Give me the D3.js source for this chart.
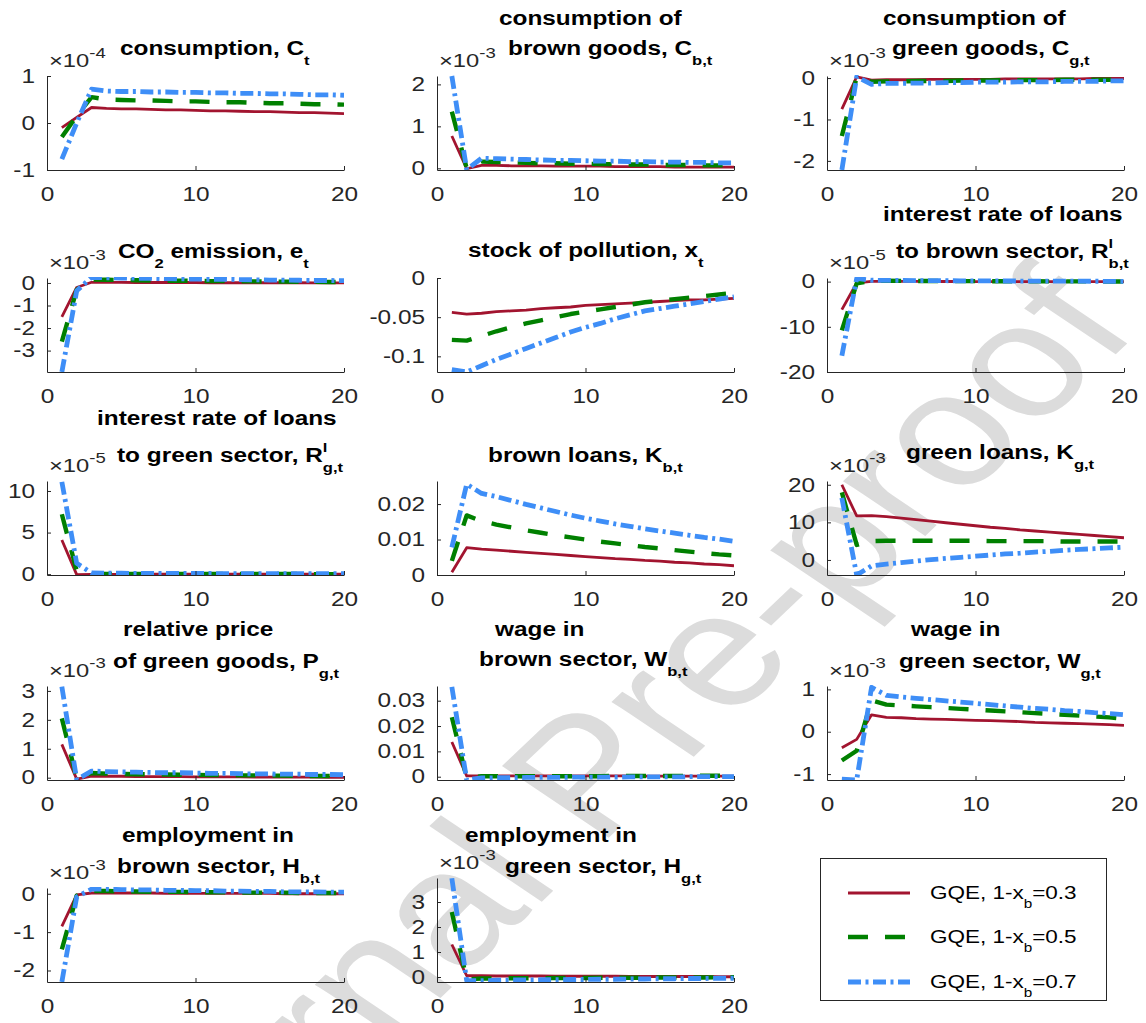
<!DOCTYPE html>
<html><head><meta charset="utf-8">
<script src="https://cdn.jsdelivr.net/npm/d3@7"></script>
<style>
body{margin:0;background:#fff}
svg{display:block}
text{font-family:"Liberation Sans",Arial,Helvetica,sans-serif}
</style>
</head><body>
<svg id="chart" width="1146" height="1023"></svg>
<script>
// ---------------- DATA (values in the units shown on each y axis) ----------------
const periods = [1,2,3,4,5,6,7,8,9,10,11,12,13,14,15,16,17,18,19,20];
const xTicks = [0,10,20];
const seriesLabels = ["GQE, 1-x_{b}=0.3","GQE, 1-x_{b}=0.5","GQE, 1-x_{b}=0.7"];

// consumption C_t  (x 1e-4)
const consumption = [
 [-0.10,0.12,0.33,0.31,0.30,0.30,0.29,0.28,0.28,0.27,0.26,0.26,0.25,0.24,0.24,0.23,0.22,0.22,0.21,0.20],
 [-0.30,0.15,0.55,0.50,0.49,0.48,0.48,0.47,0.46,0.46,0.45,0.44,0.44,0.43,0.42,0.42,0.41,0.40,0.40,0.39],
 [-0.77,0.00,0.72,0.68,0.67,0.67,0.66,0.66,0.65,0.65,0.64,0.64,0.63,0.63,0.62,0.62,0.61,0.60,0.60,0.59]];
// consumption of brown goods (x 1e-3)
const brownCons = [
 [0.77,-0.01,0.07,0.07,0.06,0.06,0.06,0.05,0.05,0.05,0.05,0.04,0.04,0.04,0.04,0.03,0.03,0.03,0.03,0.03],
 [1.35,0.00,0.16,0.15,0.14,0.13,0.12,0.12,0.11,0.11,0.10,0.10,0.09,0.09,0.08,0.08,0.08,0.07,0.07,0.07],
 [2.20,-0.03,0.24,0.23,0.22,0.21,0.20,0.19,0.19,0.18,0.17,0.17,0.16,0.16,0.15,0.15,0.14,0.14,0.13,0.13]];
// consumption of green goods (x 1e-3)
const greenCons = [
 [-0.75,0.03,-0.05,-0.04,-0.04,-0.04,-0.03,-0.03,-0.03,-0.03,-0.03,-0.02,-0.02,-0.02,-0.02,-0.02,-0.02,-0.01,-0.01,-0.01],
 [-1.40,0.02,-0.09,-0.08,-0.08,-0.07,-0.07,-0.07,-0.06,-0.06,-0.06,-0.05,-0.05,-0.05,-0.05,-0.04,-0.04,-0.04,-0.04,-0.03],
 [-2.22,0.03,-0.15,-0.13,-0.13,-0.12,-0.12,-0.11,-0.11,-0.10,-0.10,-0.10,-0.09,-0.09,-0.09,-0.08,-0.08,-0.08,-0.07,-0.07]];
// CO2 emission (x 1e-3)
const emission = [
 [-1.50,-0.20,0.03,0.03,0.03,0.02,0.02,0.02,0.02,0.02,0.01,0.01,0.01,0.01,0.01,0.01,0.01,0.00,0.00,0.00],
 [-2.60,-0.30,0.15,0.14,0.13,0.12,0.11,0.10,0.10,0.09,0.08,0.08,0.07,0.07,0.06,0.06,0.05,0.05,0.04,0.04],
 [-3.95,-0.35,0.25,0.23,0.22,0.21,0.20,0.19,0.18,0.17,0.16,0.16,0.15,0.14,0.13,0.13,0.12,0.11,0.11,0.10]];
// stock of pollution
const pollution = [
 [-0.044,-0.046,-0.045,-0.043,-0.042,-0.041,-0.039,-0.038,-0.037,-0.035,-0.034,-0.033,-0.032,-0.031,-0.030,-0.029,-0.028,-0.028,-0.027,-0.026],
 [-0.079,-0.080,-0.074,-0.068,-0.063,-0.058,-0.054,-0.050,-0.046,-0.043,-0.040,-0.037,-0.034,-0.031,-0.029,-0.027,-0.025,-0.023,-0.021,-0.019],
 [-0.117,-0.120,-0.112,-0.104,-0.097,-0.090,-0.083,-0.076,-0.069,-0.063,-0.058,-0.052,-0.047,-0.042,-0.039,-0.036,-0.033,-0.030,-0.027,-0.024]];
// interest rate of loans to brown sector (x 1e-5)
const rateBrown = [
 [-6.2,-0.3,0.05,0.05,0.04,0.04,0.03,0.03,0.03,0.02,0.02,0.02,0.02,0.01,0.01,0.01,0.01,0.01,0.01,0.00],
 [-10.8,-0.4,0.20,0.18,0.16,0.15,0.13,0.12,0.11,0.10,0.09,0.08,0.07,0.07,0.06,0.05,0.05,0.04,0.04,0.03],
 [-16.4,0.7,0.30,0.28,0.26,0.24,0.22,0.20,0.18,0.17,0.15,0.14,0.13,0.12,0.11,0.10,0.09,0.08,0.07,0.06]];
// interest rate of loans to green sector (x 1e-5)
const rateGreen = [
 [4.1,-0.05,-0.02,-0.02,-0.02,-0.02,-0.01,-0.01,-0.01,-0.01,-0.01,-0.01,-0.01,-0.01,0.00,0.00,0.00,0.00,0.00,0.00],
 [7.2,0.4,0.05,0.04,0.04,0.04,0.03,0.03,0.03,0.03,0.02,0.02,0.02,0.02,0.02,0.02,0.01,0.01,0.01,0.01],
 [11.1,1.3,0.15,0.12,0.11,0.10,0.10,0.09,0.09,0.08,0.08,0.07,0.07,0.07,0.06,0.06,0.06,0.05,0.05,0.05]];
// brown loans
const brownLoans = [
 [0.0008,0.0077,0.0073,0.0070,0.0067,0.0064,0.0061,0.0058,0.0055,0.0052,0.0049,0.0046,0.0044,0.0041,0.0039,0.0036,0.0034,0.0031,0.0029,0.0026],
 [0.0040,0.0168,0.0152,0.0142,0.0134,0.0126,0.0119,0.0112,0.0106,0.0100,0.0094,0.0089,0.0084,0.0079,0.0075,0.0070,0.0066,0.0062,0.0058,0.0055],
 [0.0078,0.0256,0.0230,0.0221,0.0210,0.0199,0.0189,0.0179,0.0169,0.0160,0.0152,0.0144,0.0137,0.0130,0.0124,0.0118,0.0112,0.0106,0.0101,0.0095]];
// green loans (x 1e-3)
const greenLoans = [
 [20.0,11.7,11.8,11.5,11.1,10.7,10.3,9.9,9.5,9.1,8.7,8.4,8.0,7.7,7.4,7.1,6.8,6.5,6.2,5.9],
 [18.0,4.0,5.0,5.1,5.1,5.1,5.1,5.1,5.1,5.1,5.0,5.0,5.0,5.0,5.0,4.9,4.9,4.9,4.9,4.9],
 [16.5,-4.0,-1.6,-1.1,-0.7,-0.3,0.1,0.4,0.7,1.0,1.3,1.6,1.8,2.1,2.3,2.6,2.8,3.0,3.2,3.4]];
// relative price of green goods (x 1e-3)
const relPrice = [
 [1.15,-0.05,0.05,0.05,0.05,0.04,0.04,0.04,0.04,0.03,0.03,0.03,0.03,0.02,0.02,0.02,0.02,0.02,0.01,0.01],
 [2.05,-0.03,0.16,0.14,0.13,0.12,0.12,0.11,0.10,0.10,0.09,0.09,0.08,0.08,0.07,0.07,0.06,0.06,0.06,0.05],
 [3.15,-0.07,0.23,0.21,0.20,0.19,0.18,0.17,0.17,0.16,0.15,0.15,0.14,0.13,0.13,0.12,0.12,0.11,0.11,0.10]];
// wage in brown sector
const wageBrown = [
 [0.0137,0.0003,0.0003,0.0003,0.0003,0.0003,0.0003,0.0003,0.0003,0.0003,0.0003,0.0003,0.0003,0.0002,0.0002,0.0002,0.0002,0.0002,0.0002,0.0002],
 [0.0235,-0.0005,0.0002,0.0002,0.0002,0.0002,0.0002,0.0002,0.0002,0.0002,0.0002,0.0003,0.0003,0.0003,0.0003,0.0003,0.0003,0.0004,0.0004,0.0004],
 [0.0355,-0.0013,-0.0005,-0.0004,-0.0004,-0.0003,-0.0003,-0.0003,-0.0002,-0.0002,-0.0002,-0.0002,-0.0001,-0.0001,-0.0001,-0.0001,0.0000,0.0000,0.0000,0.0000]];
// wage in green sector (x 1e-3)
const wageGreen = [
 [-0.38,-0.18,0.40,0.34,0.33,0.31,0.30,0.29,0.28,0.27,0.26,0.25,0.24,0.22,0.21,0.20,0.19,0.18,0.17,0.15],
 [-0.68,-0.45,0.74,0.64,0.62,0.60,0.58,0.56,0.54,0.52,0.50,0.48,0.46,0.44,0.42,0.40,0.38,0.36,0.34,0.31],
 [-1.12,-1.14,1.05,0.86,0.82,0.79,0.76,0.73,0.70,0.67,0.64,0.61,0.58,0.55,0.53,0.50,0.48,0.45,0.43,0.40]];
// employment in brown sector (x 1e-3)
const empBrown = [
 [-0.85,-0.03,0.02,0.02,0.02,0.02,0.02,0.01,0.01,0.01,0.01,0.01,0.01,0.01,0.01,0.00,0.00,0.00,0.00,0.00],
 [-1.45,-0.05,0.07,0.07,0.06,0.06,0.05,0.05,0.05,0.04,0.04,0.04,0.03,0.03,0.03,0.03,0.02,0.02,0.02,0.02],
 [-2.30,-0.08,0.12,0.12,0.11,0.10,0.10,0.09,0.09,0.08,0.08,0.07,0.07,0.06,0.06,0.05,0.05,0.05,0.04,0.04]];
// employment in green sector (x 1e-3)
const empGreen = [
 [1.30,0.05,0.05,0.04,0.04,0.04,0.04,0.03,0.03,0.03,0.03,0.03,0.02,0.02,0.02,0.02,0.02,0.02,0.01,0.01],
 [2.60,-0.10,-0.06,-0.06,-0.05,-0.05,-0.05,-0.04,-0.04,-0.04,-0.03,-0.03,-0.03,-0.03,-0.02,-0.02,-0.02,-0.02,-0.01,-0.01],
 [3.95,-0.15,-0.15,-0.13,-0.12,-0.12,-0.11,-0.11,-0.10,-0.10,-0.09,-0.09,-0.08,-0.08,-0.07,-0.07,-0.06,-0.06,-0.05,-0.05]];

// per-panel tick labels / limits / exponents
const yTickSets = [[-1,0,1],[0,1,2],[-2,-1,0],[-3,-2,-1,0],[-0.1,-0.05,0],[-20,-10,0],[0,5,10],[0,0.01,0.02],[0,10,20],[0,1,2,3],[0,0.01,0.02,0.03],[-1,0,1],[-2,-1,0],[0,1,2,3]];
const yLimits = [[-1,1],[-0.04,2.2],[-2.22,0.05],[-3.95,0.22],[-0.12,0],[-20,0.8],[-0.1,11.2],[0,0.0265],[-4,21],[-0.08,3.17],[-0.0013,0.0358],[-1.14,1.08],[-2.3,0.15],[-0.2,3.96]];
const exponents = [-4,-3,-3,-3,null,-5,-5,null,-3,-3,null,-3,-3,-3];
const titles = [
 ["consumption, C_{t}"],
 ["consumption of","brown goods, C_{b,t}"],
 ["consumption of","green goods, C_{g,t}"],
 ["CO_{2} emission, e_{t}"],
 ["stock of pollution, x_{t}"],
 ["interest rate of loans","to brown sector, R^{l}_{b,t}"],
 ["interest rate of loans","to green sector, R^{l}_{g,t}"],
 ["brown loans, K_{b,t}"],
 ["green loans, K_{g,t}"],
 ["relative price","of green goods, P_{g,t}"],
 ["wage in","brown sector, W_{b,t}"],
 ["wage in","green sector, W_{g,t}"],
 ["employment in","brown sector, H_{b,t}"],
 ["employment in","green sector, H_{g,t}"]];
const panelData = [consumption,brownCons,greenCons,emission,pollution,rateBrown,rateGreen,brownLoans,greenLoans,relPrice,wageBrown,wageGreen,empBrown,empGreen];

// ---------------- LAYOUT / STYLE ----------------
const SX = 1.25;             // horizontal stretch of the original raster
const colX = [47, 437, 827];
const rowY = [76, 278, 481, 686, 888];
const AW = 297, AH = 94;
const topExtra = [0,0,0,0,0,0,0,0,0,0,0,0,0,10];   // panel whose axes reach higher
const axisColor = "#262626";
const tickFS = 19.5, titleFS = 19.5, expFS = 19, legFS = 18;
const colors = ["#A2142F", "#008000", "#3E8EF7"];
const widths = [2.8, 4.4, 4.8];
const dashes = [null, "20,17", "13,4.5,3,4.5"];
// title line placement: [dx from axis left, dy from row top]
const titlePos = [
 [[73,-21]],
 [[62,-51],[71,-21]],
 [[56,-51],[65,-21]],
 [[71,-20]],
 [[31,-21]],
 [[56,-57],[69,-20]],
 [[50,-56],[70,-19]],
 [[51,-19]],
 [[79,-22]],
 [[76,-50],[66,-18]],
 [[58,-50],[42,-20]],
 [[84,-50],[72,-18]],
 [[75,-46],[70,-15]],
 [[28,-46],[68,-15]]];

const svg = d3.select("#chart");
svg.append("rect").attr("width",1146).attr("height",1023).attr("fill","#fff");

// watermark (behind everything)
svg.append("text")
  .attr("transform","translate(584,774) scale(1.25,1) rotate(-50)")
  .attr("text-anchor","middle").attr("dominant-baseline","central")
  .attr("font-size",162).attr("fill","#dcdcdc")
  .text("Journal Pre-proof");

function parseRich(str){
  const toks=[]; let i=0;
  while(i<str.length){
    const ch=str[i];
    if(ch==="_"||ch==="^"){
      let c;
      if(str[i+1]==="{"){const j=str.indexOf("}",i); c=str.slice(i+2,j); i=j+1;}
      else {c=str[i+1]; i+=2;}
      toks.push({type: ch==="_"?"sub":"sup", text:c});
    } else {
      let j=i; while(j<str.length && str[j]!=="_" && str[j]!=="^") j++;
      toks.push({type:"n", text:str.slice(i,j)}); i=j;
    }
  }
  return toks;
}
// left-anchored rich text with sub/superscripts, stretched horizontally
function richText(parent, str, x, y, fs, weight, fill, smallScale){
  const sc = smallScale || 0.68;
  const g = parent.append("g").attr("transform",`translate(${x},${y}) scale(${SX},1)`);
  const toks = parseRich(str);
  let cx=0, supStart=0;
  toks.forEach((t,k)=>{
    const small = t.type!=="n";
    const size = small ? fs*sc : fs;
    const dy = t.type==="sub" ? fs*0.5 : (t.type==="sup" ? -fs*0.5 : 0);
    const stacked = t.type==="sub" && k>0 && toks[k-1].type==="sup";
    const sx = stacked ? supStart : cx;
    const el = g.append("text").attr("x",sx).attr("y",dy)
      .attr("font-size",size).attr("font-weight",weight).attr("fill",fill)
      .style("white-space","pre").text(t.text);
    const w = el.node().getComputedTextLength();
    if(t.type==="sup"){ supStart=sx; cx=sx+w; }
    else if(stacked){ cx=Math.max(cx, sx+w); }
    else cx = sx+w;
  });
  return g;
}

const x = d3.scaleLinear().domain([0,20]);

panelData.forEach((series, p)=>{
  const col = p%3, row = Math.floor(p/3);
  const ox = colX[col], oy = rowY[row];
  const g = svg.append("g").attr("transform",`translate(${ox},${oy})`);
  const top = -topExtra[p];
  const xs = x.copy().range([0,AW]);
  const ys = d3.scaleLinear().domain(yLimits[p]).range([AH,top]);

  const clipId = "clip"+p;
  g.append("clipPath").attr("id",clipId).append("rect").attr("x",0).attr("y",top-1).attr("width",AW).attr("height",AH-top+2);

  const line = d3.line().x((d,i)=>xs(periods[i])).y(d=>ys(d));
  const lg = g.append("g").attr("clip-path",`url(#${clipId})`);
  series.forEach((s,k)=>{
    lg.append("path").datum(s).attr("d",line).attr("fill","none")
      .attr("stroke",colors[k]).attr("stroke-width",widths[k])
      .attr("stroke-dasharray",dashes[k]).attr("stroke-linejoin","round");
  });

  const ax = g.append("g").attr("transform",`translate(0,${AH})`)
    .call(d3.axisBottom(xs).tickValues(xTicks).tickSizeInner(-4).tickSizeOuter(0).tickPadding(17).tickFormat(d3.format("d")));
  const ay = g.append("g")
    .call(d3.axisLeft(ys).tickValues(yTickSets[p]).tickSizeInner(-4).tickSizeOuter(0).tickPadding(12).tickFormat(d=>String(d)));
  [ax,ay].forEach(a=>{
    a.attr("font-family",null).attr("font-size",null);
    a.select(".domain").attr("stroke",axisColor).attr("stroke-width",1);
    a.selectAll(".tick line").attr("stroke",axisColor);
    a.selectAll(".tick text").each(function(){
      const t=d3.select(this); const tx=+t.attr("x")||0; const ty=+t.attr("y")||0;
      t.attr("x",0).attr("y",0).attr("transform",`translate(${tx},${ty}) scale(${SX},1)`)
       .attr("fill",axisColor).attr("font-size",tickFS);
    });
  });

  if(exponents[p]!==null){
    richText(g, "\u00D710^{"+exponents[p]+"}", 2, top-9, expFS, "normal", axisColor, 0.78);
  }
  titles[p].forEach((ln,i)=>{
    const [dx,dy]=titlePos[p][i];
    richText(g, ln, dx, dy, titleFS, "bold", "#000");
  });
});

// legend
const leg = svg.append("g");
leg.append("rect").attr("x",820.5).attr("y",858.5).attr("width",286).attr("height",142)
  .attr("fill","#fff").attr("stroke",axisColor).attr("stroke-width",1);
const legY = [893, 937, 982];
seriesLabels.forEach((lab,k)=>{
  leg.append("line").attr("x1",848).attr("x2",910).attr("y1",legY[k]).attr("y2",legY[k])
    .attr("stroke",colors[k]).attr("stroke-width",widths[k]).attr("stroke-dasharray",dashes[k]);
  richText(leg, lab, 930, legY[k]+6, legFS, "normal", "#000");
});
</script>
</body></html>
